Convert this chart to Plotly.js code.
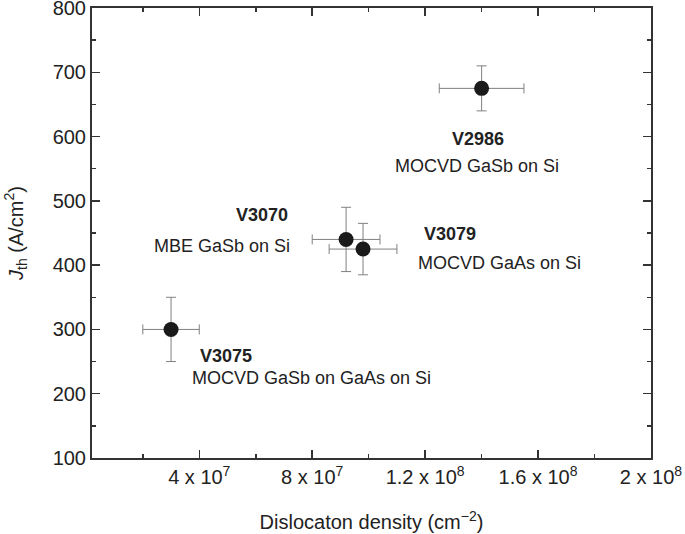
<!DOCTYPE html>
<html>
<head>
<meta charset="utf-8">
<script src="https://cdn.plot.ly/plotly-3.0.1.min.js"></script>
<style>html,body{margin:0;padding:0;background:#fff;}#chart{width:685px;height:534px;}</style>
</head>
<body>
<div id="chart"></div>
<script>
// Data
const samples = ["V3075", "V3070", "V3079", "V2986"];
const descriptions = ["MOCVD GaSb on GaAs on Si", "MBE GaSb on Si", "MOCVD GaAs on Si", "MOCVD GaSb on Si"];
const dislocationDensity = [3.0e7, 9.2e7, 9.8e7, 1.4e8];
const densityError = [1.0e7, 1.2e7, 1.2e7, 1.5e7];
const jth = [300, 440, 425, 675];
const jthError = [50, 50, 40, 35];
const xTickVals = [4e7, 8e7, 1.2e8, 1.6e8, 2e8];
const xTickText = ["4 x 10<sup>7</sup>", "8 x 10<sup>7</sup>", "1.2 x 10<sup>8</sup>", "1.6 x 10<sup>8</sup>", "2 x 10<sup>8</sup>"];
const yTickVals = [100, 200, 300, 400, 500, 600, 700, 800];
const xMinorVals = [2e7, 6e7, 1e8, 1.4e8, 1.8e8];
const yMinorVals = [150, 250, 350, 450, 550, 650, 750];

// label anchors (data units)
const nameX = [3.96e7, 7.21e7, 1.188e8, 1.387e8];
const nameY = [259, 478, 449, 596];
const descX = [3.67e7, 7.28e7, 1.168e8, 1.383e8];
const descY = [224, 430, 404, 554];
const labelAnchor = ["left", "right", "left", "center"];

const FONT = "Liberation Sans, Arial, Helvetica, sans-serif";
const axisColor = "#333333";
const textColor = "#222222";

const trace = {
  x: dislocationDensity,
  y: jth,
  mode: "markers",
  type: "scatter",
  marker: {color: "#1a1a1a", size: 15},
  error_x: {type: "data", array: densityError, visible: true, color: "#808080", thickness: 1, width: 5},
  error_y: {type: "data", array: jthError, visible: true, color: "#808080", thickness: 1, width: 5},
  hoverinfo: "none"
};

const annotations = [];
for (let i = 0; i < samples.length; i++) {
  annotations.push({
    x: nameX[i], y: nameY[i], xref: "x", yref: "y",
    text: "<b>" + samples[i] + "</b>", showarrow: false,
    xanchor: labelAnchor[i], yanchor: "middle",
    font: {family: FONT, size: 18, color: textColor}
  });
  annotations.push({
    x: descX[i], y: descY[i], xref: "x", yref: "y",
    text: descriptions[i], showarrow: false,
    xanchor: labelAnchor[i], yanchor: "middle",
    font: {family: FONT, size: 18, color: textColor}
  });
}

const layout = {
  width: 685, height: 534,
  margin: {l: 92, r: 34, t: 8, b: 76},
  paper_bgcolor: "#fff", plot_bgcolor: "#fff",
  showlegend: false,
  font: {family: FONT, color: textColor, size: 18},
  xaxis: {
    range: [2e6, 2e8],
    tickmode: "array", tickvals: xTickVals, ticktext: xTickText,
    ticks: "inside", ticklen: 8, tickwidth: 1.5, tickcolor: axisColor,
    minor: {tickmode: "array", tickvals: xMinorVals, ticks: "inside", ticklen: 4, tickwidth: 1.5, tickcolor: axisColor},
    showline: true, linecolor: axisColor, linewidth: 2, mirror: "ticks",
    showgrid: false, zeroline: false, ticklabeloverflow: "allow",
    tickfont: {family: FONT, size: 20, color: textColor},
    title: {text: "Dislocaton density (cm<sup>\u22122</sup>)", font: {family: FONT, size: 20, color: textColor}, standoff: 28}
  },
  yaxis: {
    range: [100, 800],
    tickmode: "array", tickvals: yTickVals,
    ticks: "inside", ticklen: 8, tickwidth: 1.5, tickcolor: axisColor,
    minor: {tickmode: "array", tickvals: yMinorVals, ticks: "inside", ticklen: 4, tickwidth: 1.5, tickcolor: axisColor},
    showline: true, linecolor: axisColor, linewidth: 2, mirror: "ticks",
    showgrid: false, zeroline: false, ticklabeloverflow: "allow",
    tickfont: {family: FONT, size: 20, color: textColor},
    title: {text: "<i>J</i><sub>th</sub> (A/cm<sup>2</sup>)", font: {family: FONT, size: 20, color: textColor}, standoff: 24}
  },
  annotations: annotations
};

Plotly.newPlot("chart", [trace], layout, {displayModeBar: false, staticPlot: true});
</script>
</body>
</html>
